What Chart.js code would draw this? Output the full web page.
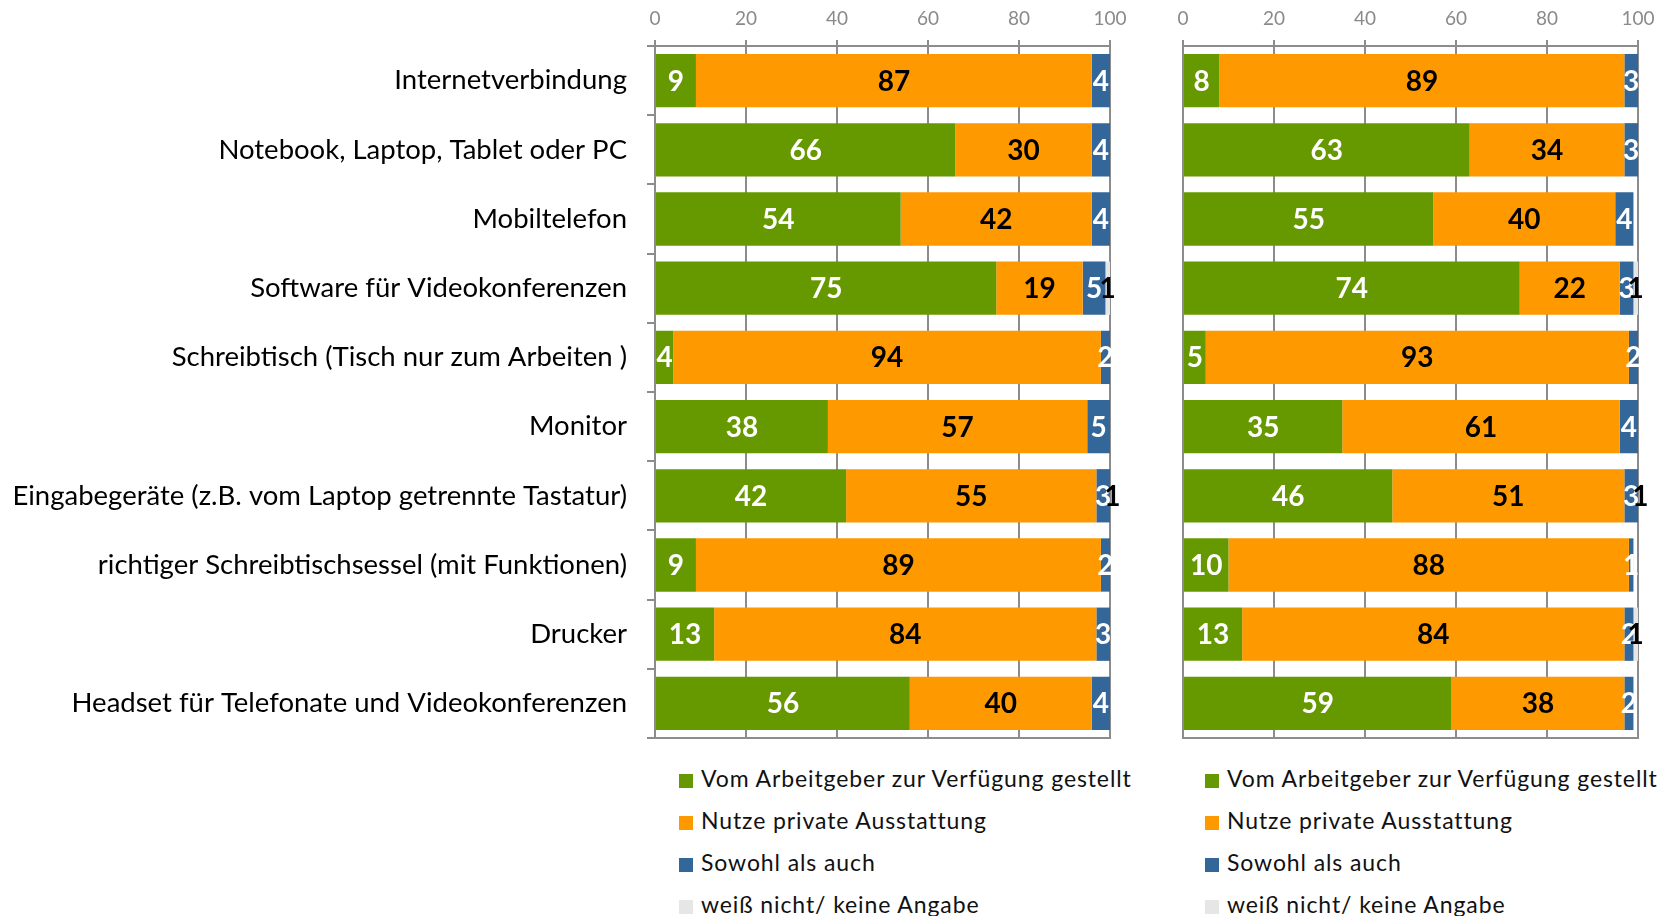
<!DOCTYPE html>
<html>
<head>
<meta charset="utf-8">
<script src="https://cdn.jsdelivr.net/npm/chart.js@4/dist/chart.umd.min.js"></script>
<style>
  body { margin: 0; background: #fff; width: 1671px; height: 916px; overflow: hidden; position: relative; font-family: Lato, sans-serif; }
  .box { position: absolute; top: 0; }
  .legend { position: absolute; top: 760px; font-size: 23px; color: #111; letter-spacing: 0.9px; }
  .legend div { height: 42px; line-height: 36px; white-space: nowrap; }
  .legend span { display: inline-block; width: 14px; height: 14px; margin-right: 8px; vertical-align: -1px; }
</style>
</head>
<body>
<div class="box" style="left:0"><canvas id="left" width="1145" height="745"></canvas></div>
<div class="box" style="left:1150px"><canvas id="right" width="521" height="745"></canvas></div>
<div class="legend" id="legLeft" style="left:679px"></div>
<div class="legend" id="legRight" style="left:1205px"></div>
<script>
const categories = [
  'Internetverbindung',
  'Notebook, Laptop, Tablet oder PC',
  'Mobiltelefon',
  'Software für Videokonferenzen',
  'Schreibtisch (Tisch nur zum Arbeiten )',
  'Monitor',
  'Eingabegeräte (z.B. vom Laptop getrennte Tastatur)',
  'richtiger Schreibtischsessel (mit Funktionen)',
  'Drucker',
  'Headset für Telefonate und Videokonferenzen'
];
const seriesNames = [
  'Vom Arbeitgeber zur Verfügung gestellt',
  'Nutze private Ausstattung',
  'Sowohl als auch',
  'weiß nicht/ keine Angabe'
];
const colors = ['#669900', '#ff9900', '#336699', '#e6e6e6'];
const labelColors = ['#ffffff', '#000000', '#ffffff', '#000000'];
const tickValues = [0, 20, 40, 60, 80, 100];

// left panel
const leftArbeitgeber = [9, 66, 54, 75, 4, 38, 42, 9, 13, 56];
const leftPrivat = [87, 30, 42, 19, 94, 57, 55, 89, 84, 40];
const leftBeides = [4, 4, 4, 5, 2, 5, 3, 2, 3, 4];
const leftWeissNicht = [0, 0, 0, 1, 0, 0, 1, 0, 0, 0];

// right panel
const rightArbeitgeber = [8, 63, 55, 74, 5, 35, 46, 10, 13, 59];
const rightPrivat = [89, 34, 40, 22, 93, 61, 51, 88, 84, 38];
const rightBeides = [3, 3, 4, 3, 2, 4, 3, 1, 2, 2];
const rightWeissNicht = [0, 0, 0, 1, 0, 0, 1, 0, 1, 0];

const axisGray = '#8c8c8c';

const barLabels = {
  id: 'barLabels',
  afterDatasetsDraw(chart) {
    const ctx = chart.ctx;
    ctx.save();
    ctx.font = 'bold 28px Lato';
    ctx.textAlign = 'center';
    ctx.textBaseline = 'middle';
    chart.data.datasets.forEach((ds, i) => {
      const meta = chart.getDatasetMeta(i);
      meta.data.forEach((bar, j) => {
        const v = ds.data[j];
        if (!v) return;
        ctx.fillStyle = labelColors[i];
        ctx.fillText(String(v), (bar.x + bar.base) / 2, bar.y + 1);
      });
    });
    ctx.restore();
  }
};

function makeChart(id, series, yWidth, padRight, showLabels) {
  const datasets = series.map((data, i) => ({
    label: seriesNames[i],
    data: data,
    backgroundColor: colors[i],
    barPercentage: 0.77,
    categoryPercentage: 1
  }));
  return new Chart(document.getElementById(id), {
    type: 'bar',
    data: { labels: categories, datasets: datasets },
    plugins: [barLabels],
    options: {
      indexAxis: 'y',
      responsive: false,
      animation: false,
      layout: { padding: { left: 0, right: padRight, top: 0, bottom: 7 } },
      plugins: { legend: { display: false }, tooltip: { enabled: false } },
      scales: {
        x: {
          position: 'top',
          stacked: true,
          min: 0,
          max: 100,
          afterBuildTicks: (s) => { s.ticks = tickValues.map(v => ({ value: v })); },
          afterFit: (s) => { s.height = 46; },
          ticks: { color: '#8a8a8a', font: { family: 'Lato', size: 19 }, padding: 10 },
          grid: { color: axisGray, lineWidth: 2, tickLength: 6 },
          border: { color: axisGray, width: 2 }
        },
        xb: {
          position: 'bottom',
          min: 0,
          max: 100,
          afterFit: (s) => { s.height = 0; },
          ticks: { display: false },
          grid: { display: false, drawTicks: false },
          border: { display: true, color: axisGray, width: 2 }
        },
        y: {
          stacked: true,
          afterFit: (s) => { s.width = yWidth; s.paddingTop = 0; s.paddingBottom = 0; },
          ticks: {
            display: showLabels,
            color: '#000',
            font: { family: 'Lato', size: 27.5 },
            padding: 20
          },
          grid: { drawOnChartArea: false, drawTicks: showLabels, tickLength: 8, color: axisGray, lineWidth: 2 },
          border: { color: axisGray, width: 2 }
        }
      }
    }
  });
}

makeChart('left', [leftArbeitgeber, leftPrivat, leftBeides, leftWeissNicht], 655, 35, true);
makeChart('right', [rightArbeitgeber, rightPrivat, rightBeides, rightWeissNicht], 33, 33, false);

function buildLegend(id) {
  const el = document.getElementById(id);
  seriesNames.forEach((name, i) => {
    const row = document.createElement('div');
    const sq = document.createElement('span');
    sq.style.background = colors[i];
    row.appendChild(sq);
    row.appendChild(document.createTextNode(name));
    el.appendChild(row);
  });
}
buildLegend('legLeft');
buildLegend('legRight');
</script>
</body>
</html>
